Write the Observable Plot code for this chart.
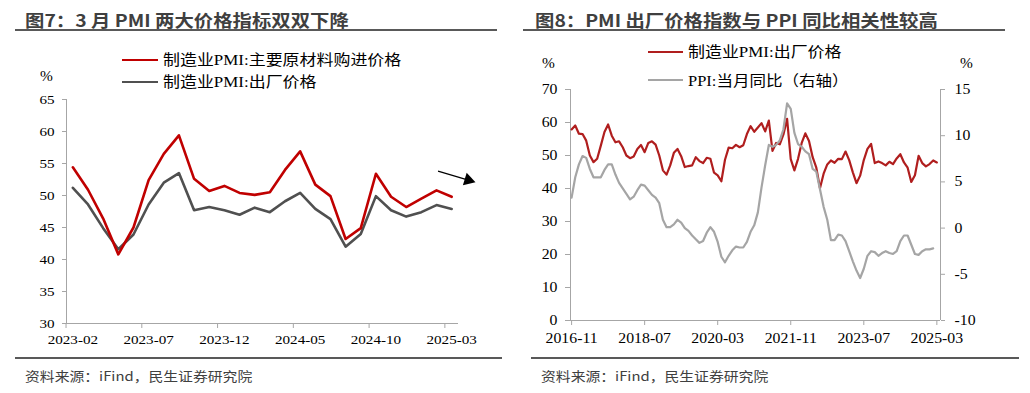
<!DOCTYPE html>
<html>
<head>
<meta charset="utf-8">
<script src="https://cdn.jsdelivr.net/npm/d3@7"></script>
<script src="https://cdn.jsdelivr.net/npm/@observablehq/plot@0.6"></script>
<style>
  html, body { margin: 0; padding: 0; background: #fff; }
  #root { position: relative; width: 1030px; height: 393px; overflow: hidden; background: #fff; }
  .abs { position: absolute; }
</style>
</head>
<body>
<div id="root"></div>
<script>
// ---------------- Data: Figure 7 ----------------
const leftMonths = ["2023-02","2023-03","2023-04","2023-05","2023-06","2023-07","2023-08","2023-09","2023-10","2023-11","2023-12",
  "2024-01","2024-02","2024-03","2024-04","2024-05","2024-06","2024-07","2024-08","2024-09","2024-10","2024-11","2024-12",
  "2025-01","2025-02","2025-03"];
const rawMaterialPrice = [54.4,50.9,46.4,40.8,45.0,52.4,56.5,59.4,52.6,50.7,51.5,50.4,50.1,50.5,54.0,56.9,51.7,49.9,43.2,44.9,53.4,49.8,48.2,49.5,50.8,49.8];
const outputPriceL = [51.2,48.6,44.9,41.6,43.9,48.6,52.0,53.5,47.7,48.2,47.7,47.0,48.1,47.4,49.1,50.4,47.9,46.3,42.0,44.0,49.9,47.7,46.7,47.4,48.5,47.9];
const leftTickLabels = ["2023-02","2023-07","2023-12","2024-05","2024-10","2025-03"];
const leftYTicks = [30,35,40,45,50,55,60,65];
// arrow annotation in data space (month index, value)
const arrowNote = [{x1: 24.1, y1: 53.8, x2: 26.1, y2: 52.4}];

// ---------------- Data: Figure 8 ----------------
const rightTickLabels = ["2016-11","2018-07","2020-03","2021-11","2023-07","2025-03"];
const pmiOutput = [
  57.9,59.1,56.6,56.5,54.5,50.0,48.0,49.0,53.0,57.1,59.4,56.0,54.0,54.3,
  52.5,50.0,49.2,49.7,52.0,53.2,51.0,53.8,54.3,53.3,50.0,45.5,
  44.2,47.0,50.8,52.0,49.8,46.5,46.8,47.0,49.5,48.3,47.7,49.3,
  49.0,44.8,44.0,42.2,48.7,52.4,52.2,53.2,52.5,53.1,56.5,58.9,
  57.2,58.5,59.8,57.3,60.6,51.4,53.8,53.4,56.4,61.1,48.9,45.5,
  49.0,53.8,56.7,54.4,49.5,46.3,40.1,44.5,47.3,48.5,47.8,49.0,
  48.9,51.2,48.6,44.9,41.6,43.9,48.6,52.0,53.5,47.7,48.2,47.7,
  47.0,48.1,47.4,49.1,50.4,47.9,46.3,42.0,44.0,49.9,47.7,46.7,
  47.4,48.5,47.9];
const ppiYoY = [
  3.3,5.5,
  6.9,7.8,7.6,6.4,5.5,5.5,5.5,6.3,6.9,6.9,5.8,4.9,
  4.3,3.7,3.1,3.4,4.1,4.7,4.6,4.1,3.6,3.3,2.7,0.9,
  0.1,0.1,0.4,0.9,0.6,0.0,-0.3,-0.8,-1.2,-1.6,-1.4,-0.5,
  0.1,-0.4,-1.5,-3.1,-3.7,-3.0,-2.4,-2.0,-2.1,-2.1,-1.5,-0.4,
  0.3,1.7,4.4,6.8,9.0,8.8,9.0,9.5,10.7,13.5,12.9,10.3,
  9.1,8.8,8.3,8.0,6.4,6.1,4.2,2.3,0.9,-1.3,-1.3,-0.7,
  -0.8,-1.4,-2.5,-3.6,-4.6,-5.4,-4.4,-3.0,-2.5,-2.6,-3.0,-2.7,
  -2.5,-2.7,-2.8,-2.5,-1.4,-0.8,-0.8,-1.8,-2.8,-2.9,-2.5,-2.3,
  -2.3,-2.2];
const rightYTicksL = [0,10,20,30,40,50,60,70];
const rightYTicksR = [-10,-5,0,5,10,15];

// ---------------- Styles ----------------
const axisGray = "#A6A6A6";
const serif = "'Liberation Serif','Times New Roman','Noto Sans CJK SC',serif";
const cjk = "'Noto Sans CJK SC','Noto Sans',sans-serif";
const root = document.getElementById("root");

function stretchText(svg, s) {
  svg.querySelectorAll("text").forEach(t => {
    const tr = t.getAttribute("transform") || "";
    let x = parseFloat(t.getAttribute("x"));
    if (!isFinite(x)) x = 0;
    t.setAttribute("transform", `${tr} translate(${x},0) scale(${s},1) translate(${-x},0)`.trim());
  });
}
function place(el, left, top) {
  const d = document.createElement("div");
  d.className = "abs";
  d.style.left = left + "px"; d.style.top = top + "px";
  d.appendChild(el); root.appendChild(d);
}
function addText(txt, {left, cy, size, weight = 400, family = serif, color = "#000", sx = 1.13}) {
  const d = document.createElement("div");
  d.textContent = txt;
  Object.assign(d.style, {
    position: "absolute", left: left + "px", top: (cy - size) + "px",
    height: (2 * size) + "px", lineHeight: (2 * size) + "px",
    fontSize: size + "px", fontWeight: weight, fontFamily: family, color,
    whiteSpace: "nowrap", transform: `scaleX(${sx})`, transformOrigin: "left center"
  });
  root.appendChild(d);
}
function addRule(left, top, width, height, color) {
  const d = document.createElement("div");
  Object.assign(d.style, {position: "absolute", left: left + "px", top: top + "px",
    width: width + "px", height: height + "px", background: color});
  root.appendChild(d);
}

// ---------------- Figure 7 ----------------
// category axis: tick marks sit between months, labels sit on the month itself
const leftLabelPos = leftTickLabels.map(l => leftMonths.indexOf(l));
const leftTickPos = leftLabelPos.map(i => i - 0.45);
const leftPlot = Plot.plot({
  width: 515, height: 393,
  marginLeft: 66, marginRight: 57, marginTop: 99, marginBottom: 70,
  x: {domain: [-0.42, 25.45]},
  y: {domain: [30, 65]},
  style: {fontFamily: serif, fontSize: "13.5px", color: "#000", background: "transparent", overflow: "visible"},
  marks: [
    Plot.ruleX([-0.42], {stroke: axisGray}),
    Plot.ruleY([30], {stroke: axisGray}),
    Plot.axisY(leftYTicks, {tickSize: 4, tickPadding: 8, stroke: axisGray, fill: "#000", label: null}),
    Plot.axisX(leftTickPos, {tickSize: 5, tickPadding: 6, stroke: axisGray, fill: "none", label: null,
      tickFormat: () => ""}),
    Plot.axisX(leftLabelPos, {tickSize: 0, tickPadding: 11, stroke: "none", fill: "#000", label: null,
      tickFormat: d => leftMonths[Math.round(d)]}),
    Plot.lineY(outputPriceL, {stroke: "#505050", strokeWidth: 2.6}),
    Plot.lineY(rawMaterialPrice, {stroke: "#C00000", strokeWidth: 2.6}),
    Plot.link(arrowNote, {x1: "x1", y1: "y1", x2: "x2", y2: "y2", stroke: "#000", strokeWidth: 1.2}),
    Plot.dot(arrowNote, {x: "x2", y: "y2", symbol: "triangle", r: 4.8, fill: "#000", stroke: "none", rotate: 107})
  ]
});
stretchText(leftPlot, 1.12);
place(leftPlot, 0, 0);

// ---------------- Figure 8 ----------------
const toLeft = v => (v + 10) * 70 / 25;
const rightPlot = Plot.plot({
  width: 515, height: 393,
  marginLeft: 55, marginRight: 90, marginTop: 89, marginBottom: 73,
  x: {domain: [-0.3, 101]},
  y: {domain: [0, 70]},
  style: {fontFamily: serif, fontSize: "14px", color: "#000", background: "transparent", overflow: "visible"},
  marks: [
    Plot.ruleX([-0.3], {stroke: axisGray}),
    Plot.ruleX([101], {stroke: axisGray}),
    Plot.ruleY([0], {stroke: axisGray}),
    Plot.axisY(rightYTicksL, {tickSize: 5, tickPadding: 8, stroke: axisGray, fill: "#000", label: null}),
    Plot.axisY(rightYTicksR.map(toLeft), {anchor: "right", tickSize: 4, tickPadding: 10, stroke: axisGray, fill: "#000", label: null,
      tickFormat: d => String(Math.round(d * 25 / 70 - 10))}),
    Plot.axisX(rightTickLabels.map((l, k) => k * 20), {tickSize: 5, tickPadding: 8, stroke: axisGray, fill: "#000", label: null,
      tickFormat: d => rightTickLabels[Math.round(d / 20)]}),
    Plot.lineY(pmiOutput, {stroke: "#B01E1E", strokeWidth: 2.2}),
    Plot.lineY(ppiYoY, {y: d => toLeft(d), stroke: "#A5A5A5", strokeWidth: 2.2})
  ]
});
stretchText(rightPlot, 1.13);
place(rightPlot, 515, 0);

// ---------------- Titles, rules, legends, sources ----------------
addText("图7：3 月 PMI 两大价格指标双双下降", {left: 25, cy: 19.5, size: 17, weight: 700, family: cjk, color: "#3F3F3F", sx: 1.14});
addText("图8：PMI 出厂价格指数与 PPI 同比相关性较高", {left: 535, cy: 19.5, size: 17, weight: 700, family: cjk, color: "#3F3F3F", sx: 1.14});
addRule(15, 28.5, 482, 2, "#595959");
addRule(523, 28.5, 482, 2, "#595959");

// left legend
addRule(122, 58.5, 36, 2.5, "#C00000");
addText("制造业PMI:主要原材料购进价格", {left: 163, cy: 60, size: 15});
addRule(122, 80.5, 36, 2.5, "#505050");
addText("制造业PMI:出厂价格", {left: 163, cy: 82, size: 15});
addText("%", {left: 40, cy: 77, size: 14, sx: 1.1});

// right legend
addRule(648, 50.5, 35, 2.2, "#B01E1E");
addText("制造业PMI:出厂价格", {left: 688, cy: 51.5, size: 15});
addRule(648, 79, 35, 2.2, "#A5A5A5");
addText("PPI:当月同比（右轴）", {left: 688, cy: 81, size: 15, sx: 1.1});
addText("%", {left: 542, cy: 64, size: 14, sx: 1.1});
addText("%", {left: 960, cy: 64, size: 14, sx: 1.1});

// bottom rules and sources
addRule(15, 357, 487, 2, "#595959");
addRule(531, 357, 488, 2, "#595959");
addText("资料来源：iFind，民生证券研究院", {left: 25, cy: 376, size: 13, family: cjk, color: "#404040", sx: 1.14});
addText("资料来源：iFind，民生证券研究院", {left: 541, cy: 376, size: 13, family: cjk, color: "#404040", sx: 1.14});
</script>
</body>
</html>
